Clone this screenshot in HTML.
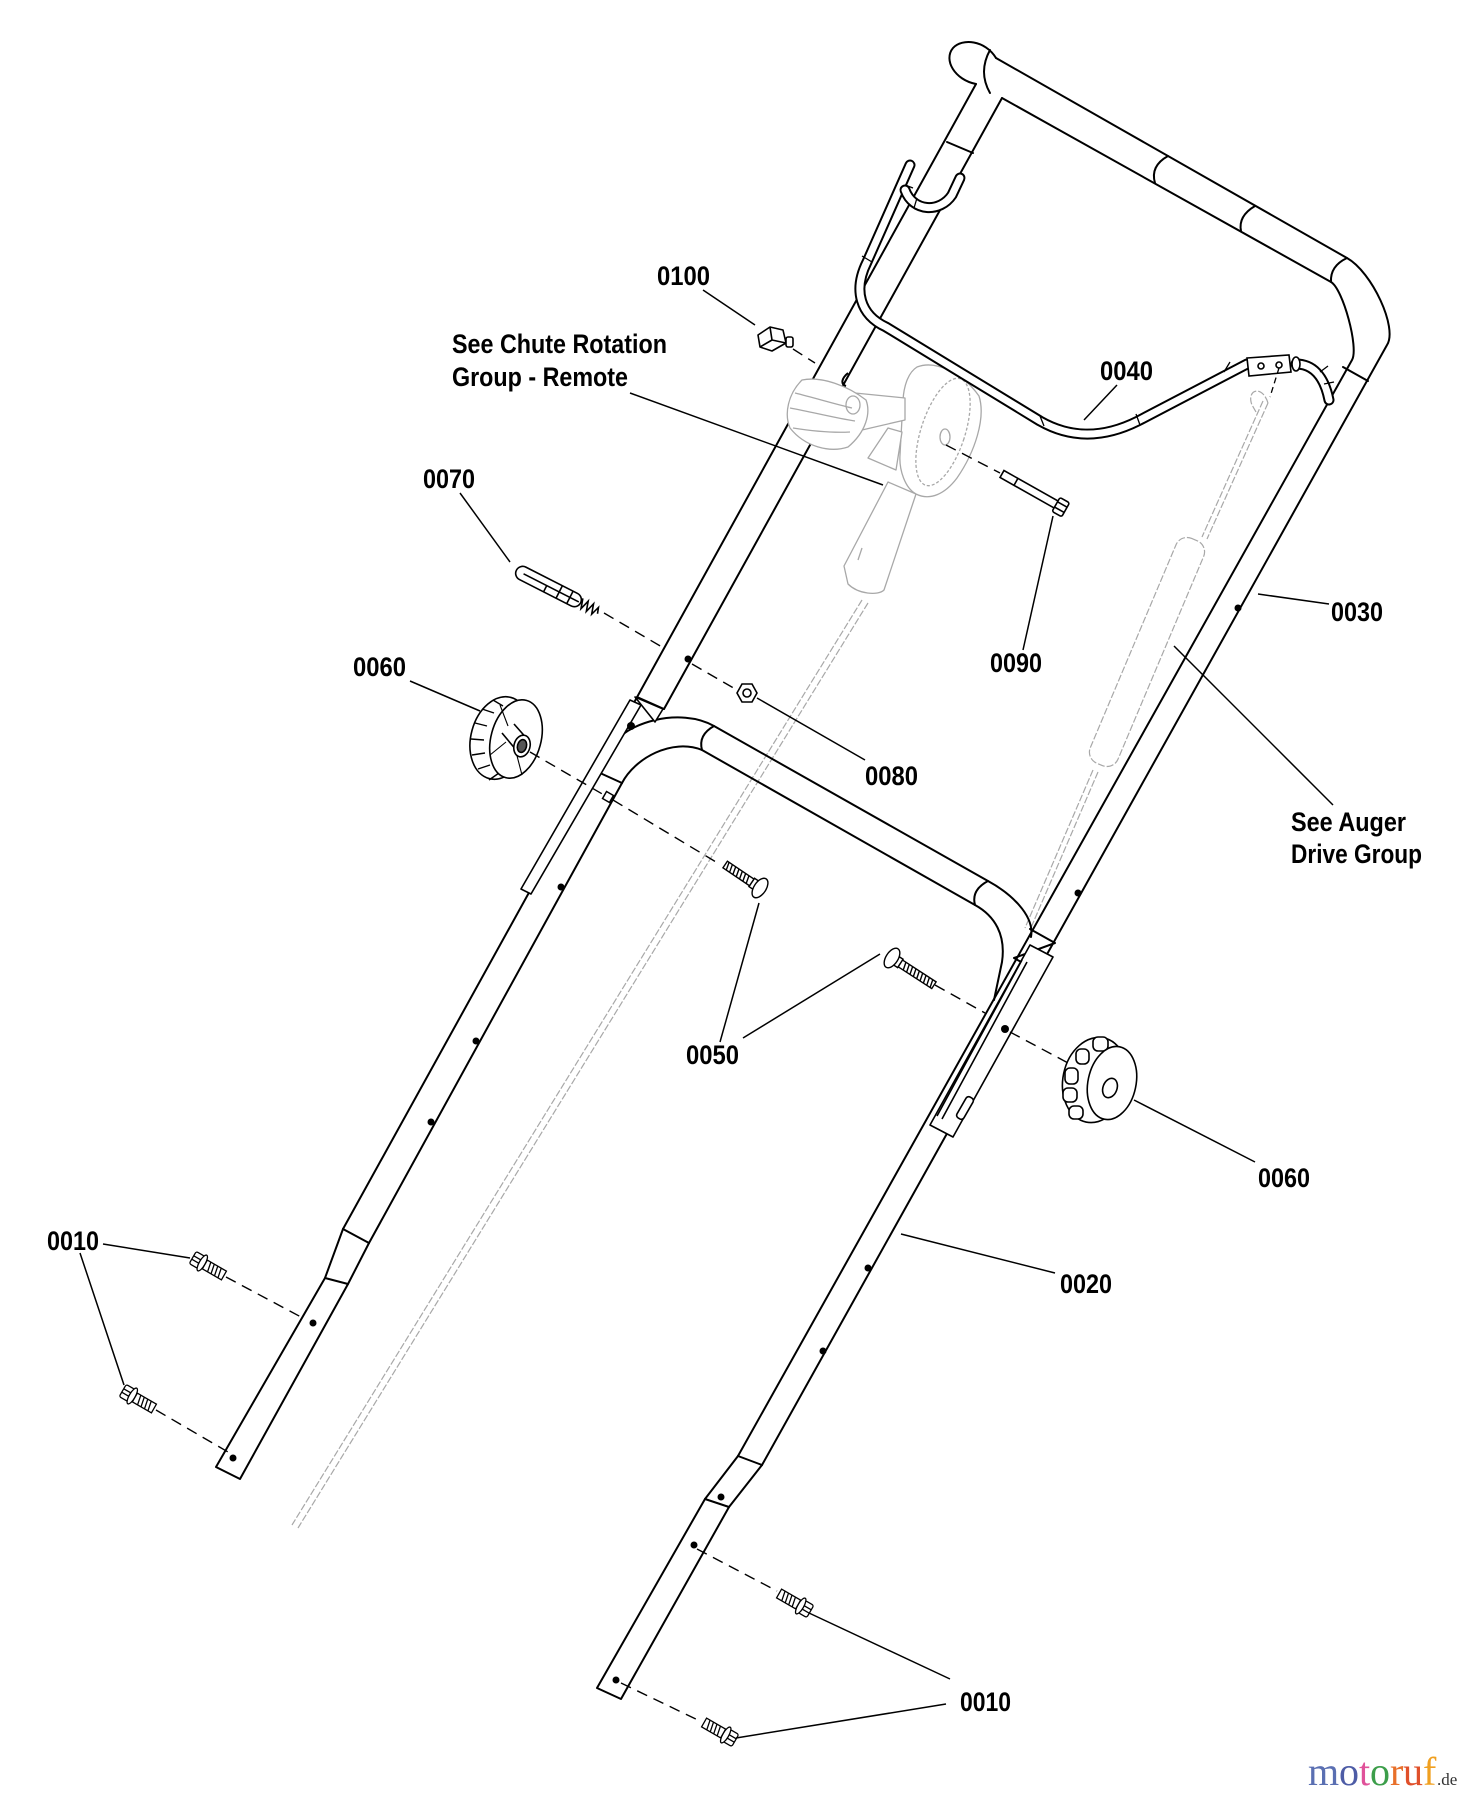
<!DOCTYPE html>
<html><head><meta charset="utf-8">
<style>
html,body{margin:0;padding:0;background:#fff;}
svg{display:block;}
.t{font-family:"Liberation Sans",sans-serif;font-weight:bold;font-size:27px;fill:#000;}
</style></head><body>
<svg width="1468" height="1800" viewBox="0 0 1468 1800" xmlns="http://www.w3.org/2000/svg">
<rect width="1468" height="1800" fill="#fff"/>

<!-- phantom cables -->
<g fill="none" stroke="#a8a8a8" stroke-width="1.2" stroke-dasharray="7 2">
 <path d="M862,600 L292,1525"/>
 <path d="M868,603 L298,1528"/>
 <path d="M1268,403 L1207,539"/>
 <path d="M1263,401 L1202,537"/>
 <path d="M1098,772 L1030,930"/>
 <path d="M1093,770 L1025,928"/>
 <rect x="-15" y="-122" width="30" height="244" rx="12" transform="translate(1147,652) rotate(22.9)"/>
 <path d="M1268,403 C1262,384 1246,390 1252,405 L1256,412"/>
</g>

<!-- tubes -->
<g fill="none" stroke="#000" stroke-width="2" stroke-linecap="round" stroke-linejoin="round">
 <path d="M976,84 L343,1229"/>
 <path d="M1002,98 L664,709"/>
 <path d="M622,783 L369,1243"/>
 <path d="M947,142 L973,153"/>
 <path d="M637,697 L664,709"/>
 <path d="M600,773 L622,783"/>
 <path d="M343,1229 L369,1243"/>
 <path d="M343,1229 L325,1278 L216,1467 L240,1479 L348,1284 L369,1243"/>
 <path d="M325,1278 L348,1284"/>
 <path d="M976,84 C955,80 943,60 953,48 C962,38 985,40 996,58"/>
 <path d="M990,50 Q978,72 990,93"/>
 <path d="M996,58 L1347,258 C1372,272 1398,328 1387,345 L762,1465"/>
 <path d="M1002,98 L1331,282 C1343,289 1359,348 1352,360 L738,1456"/>
 <path d="M1168,156 Q1150,166 1155,183"/>
 <path d="M1255,206 Q1238,216 1241,231"/>
 <path d="M1347,258 Q1330,266 1331,282"/>
 <path d="M1343,367 L1368,381"/>
 <path d="M1030,929 L1055,943 L1014,958 L1039,972"/>
 <path d="M738,1456 L762,1465"/>
 <path d="M738,1456 L705,1499 L597,1688 L621,1699 L729,1507 L762,1465"/>
 <path d="M705,1499 L729,1507"/>
 <path d="M610,748 C625,722 680,707 714,726 L988,881 C1010,893 1035,915 1031,937"/>
 <path d="M622,783 C635,758 672,738 702,750 L975,905 C995,916 1006,935 1002,962 L994,1000"/>
 <path d="M714,726 Q698,735 702,750"/>
 <path d="M988,881 Q971,890 975,905"/>
</g>

<!-- plates -->
<g fill="#fff" stroke="#000" stroke-width="1.6" stroke-linejoin="round">
 <path d="M630,700 L521,889 L531,894 L641,705 Z"/>
 <path d="M635,697 L663,709 L655,722 Z"/>
 <path d="M1030,945 L930,1125 L953,1137 L1053,957 Z"/>
 <path d="M1022,960 L937,1116 M1027,962 L942,1119" fill="none"/>
 <rect x="-4" y="-12" width="8" height="24" rx="3" transform="translate(965,1108) rotate(30)"/>
</g>
<circle cx="631" cy="726" r="4" fill="#000"/>
<rect x="604" y="793" width="8" height="8" fill="#fff" stroke="#000" stroke-width="1.5" transform="rotate(30 608 797)"/>

<!-- holes -->
<g fill="#000">
 <circle cx="688" cy="659" r="3.5"/><circle cx="561" cy="887" r="3.5"/><circle cx="476" cy="1041" r="3.5"/><circle cx="431" cy="1122" r="3.5"/>
 <circle cx="313" cy="1323" r="3.5"/><circle cx="233" cy="1458" r="3.5"/>
 <circle cx="1238" cy="608" r="3.5"/><circle cx="1078" cy="893" r="3.5"/><circle cx="1005" cy="1029" r="4"/><circle cx="868" cy="1268" r="3.5"/><circle cx="823" cy="1351" r="3.5"/>
 <circle cx="721" cy="1497" r="3.5"/><circle cx="694" cy="1545" r="3.5"/><circle cx="616" cy="1680" r="3.5"/>
</g>

<!-- chute rotation (gray) -->
<g stroke="#a8a8a8" stroke-width="1.3" fill="#fff" stroke-linejoin="round">
 <path d="M888,482 L916,494 L884,590 C878,596 858,594 848,584 L844,566 Z"/>
 <path d="M917,367 C935,360 962,372 979,396 C986,418 975,452 957,478 C945,494 930,501 916,494 C905,488 899,470 900,455 L903,400 C904,384 909,372 917,367 Z"/>
 <ellipse cx="943" cy="432" rx="22" ry="56" transform="rotate(18 943 432)" fill="none" stroke-dasharray="3 2"/>
 <path d="M845,392 L905,398 L905,420 L862,430 Z"/>
 <path d="M868,458 L888,428 L902,432 L896,470 Z"/>
 <path d="M802,380 C822,376 848,386 866,400 C871,413 866,432 848,447 C830,453 805,447 790,428 C784,414 788,394 802,380 Z"/>
 <path d="M795,393 C815,398 835,404 852,408 M790,408 C812,412 835,418 855,421 M793,428 C812,431 832,433 850,432" fill="none"/>
 <ellipse cx="853" cy="405" rx="7" ry="9" fill="none"/>
 <ellipse cx="945" cy="437" rx="5" ry="8" fill="none"/>
 <path d="M858,560 L862,548" fill="none"/>
</g>
<path d="M848,373 C842,378 840,384 846,386" fill="none" stroke="#000" stroke-width="2"/>

<!-- bail 0040 -->
<g fill="none" stroke-linecap="round" stroke-linejoin="round">
 <path d="M910,165 L867,262 C853,290 860,315 886,327 L1040,421 C1068,437 1100,440 1138,421 L1247,364" stroke="#000" stroke-width="11"/>
 <path d="M910,165 L867,262 C853,290 860,315 886,327 L1040,421 C1068,437 1100,440 1138,421 L1247,364" stroke="#fff" stroke-width="7"/>
 <path d="M905,190 C913,212 940,213 952,195 L960,178" stroke="#000" stroke-width="11"/>
 <path d="M905,190 C913,212 940,213 952,195 L960,178" stroke="#fff" stroke-width="7"/>
 <path d="M1296,364 C1312,364 1324,375 1329,400" stroke="#000" stroke-width="11"/>
 <path d="M1296,364 C1312,364 1324,375 1329,400" stroke="#fff" stroke-width="7"/>
</g>
<g fill="none" stroke="#000" stroke-width="1.3">
 <path d="M862,256 L872,262 M905,185 L913,188 M917,198 L914,208 M1040,416 L1044,426 M1136,414 L1140,425 M1224,372 L1230,362 M1320,372 L1328,366 M1324,384 L1334,382"/>
</g>
<g stroke="#000" stroke-width="1.6" fill="#fff">
 <path d="M1247,358 L1289,355 L1291,372 L1249,376 Z"/>
 <circle cx="1261" cy="366" r="3"/><circle cx="1279" cy="365" r="3"/>
 <ellipse cx="1296" cy="364" rx="4" ry="7"/>
</g>
<path d="M1279,368 L1270,397" stroke="#000" stroke-width="1.3" stroke-dasharray="6 4" fill="none"/>

<!-- part 0100 -->
<g stroke="#000" stroke-width="1.6" fill="#fff" stroke-linejoin="round">
 <path d="M758,335 L770,327 L783,330 L786,343 L772,351 L760,347 Z"/>
 <path d="M770,327 L772,340 L786,343 M772,340 L760,347" fill="none"/>
 <rect x="786" y="337" width="7" height="10" rx="2"/>
</g>

<!-- 0070 pin -->
<g transform="translate(520,572) rotate(27)" stroke="#000" stroke-width="1.6" fill="#fff">
 <rect x="-4" y="-7" width="72" height="14" rx="7"/>
 <path d="M4,0 L66,0 M30,0 L30,7 M44,-7 L44,7 M56,-7 L56,7" fill="none"/>
 <path d="M68,-5 L71,5 L74,-5 L77,5 L80,-5 L83,5 L86,-4 L88,2" fill="none"/>
</g>

<!-- nut 0080 -->
<g stroke="#000" stroke-width="1.6" fill="#fff">
 <path d="M757,693 L752,684 L742,684 L737,693 L742,702 L752,702 Z"/>
 <circle cx="747" cy="693" r="4"/>
</g>

<!-- 0090 bolt -->
<g transform="translate(1002,474) rotate(29.4)" stroke="#000" stroke-width="1.6" fill="#fff">
 <rect x="0" y="-4" width="64" height="8"/>
 <line x1="16" y1="-4" x2="16" y2="4"/>
 <rect x="62" y="-8" width="11" height="16" rx="2"/>
 <line x1="62" y1="-3" x2="73" y2="-3"/><line x1="62" y1="3" x2="73" y2="3"/>
</g>

<!-- knob left -->
<g stroke="#000" stroke-width="1.6" fill="#fff" stroke-linejoin="round">
 <ellipse cx="500" cy="738" rx="29" ry="42" transform="rotate(15 500 738)"/>
 <path d="M482,709 L494,713 M475,723 L487,726 M471,739 L484,740 M472,755 L485,753 M478,769 L490,765 M489,780 L499,773 M493,700 L503,706" fill="none" stroke-width="1.4"/>
 <ellipse cx="516" cy="739" rx="25" ry="40" transform="rotate(15 516 739)"/>
 <path d="M508,726 L500,705 M506,742 L490,755 M516,752 L522,775" fill="none" stroke-width="1.1"/>
 <path d="M501,731 L515,724 L530,742 L516,751 Z" stroke="none"/>
 <path d="M502,733 L517,751 M514,724 L529,741" fill="none"/>
 <ellipse cx="522" cy="746" rx="8" ry="11" transform="rotate(15 522 746)"/>
 <ellipse cx="522" cy="746" rx="4.5" ry="6.5" fill="#555" transform="rotate(15 522 746)"/>
</g>

<!-- knob right -->
<g stroke="#000" stroke-width="1.6" fill="#fff" stroke-linejoin="round">
 <ellipse cx="1095" cy="1080" rx="32" ry="43" transform="rotate(12 1095 1080)"/>
 <rect x="1093" y="1037" width="15" height="14" rx="5"/>
 <rect x="1076" y="1049" width="13" height="15" rx="5"/>
 <rect x="1065" y="1068" width="13" height="16" rx="5"/>
 <rect x="1063" y="1088" width="14" height="14" rx="5"/>
 <rect x="1069" y="1106" width="14" height="13" rx="5"/>
 <ellipse cx="1112" cy="1083" rx="24" ry="37" transform="rotate(12 1112 1083)"/>
 <ellipse cx="1110" cy="1088" rx="7" ry="10" transform="rotate(20 1110 1088)"/>
</g>

<!-- 0050 bolts -->
<g transform="translate(760,888) rotate(214)" stroke="#000" stroke-width="1.4" fill="#fff">
 <rect x="2" y="-5" width="8" height="10"/>
 <rect x="10" y="-4" width="32" height="8"/>
 <path d="M14,-4 L16,4 M18,-4 L20,4 M22,-4 L24,4 M26,-4 L28,4 M30,-4 L32,4 M34,-4 L36,4 M38,-4 L40,4" fill="none"/>
 <ellipse cx="0" cy="0" rx="6" ry="11"/>
</g>
<g transform="translate(892,958) rotate(33)" stroke="#000" stroke-width="1.4" fill="#fff">
 <rect x="2" y="-5" width="8" height="10"/>
 <rect x="10" y="-4" width="40" height="8"/>
 <path d="M14,-4 L16,4 M18,-4 L20,4 M22,-4 L24,4 M26,-4 L28,4 M30,-4 L32,4 M34,-4 L36,4 M38,-4 L40,4 M42,-4 L44,4 M46,-4 L48,4" fill="none"/>
 <ellipse cx="0" cy="0" rx="6" ry="11"/>
</g>

<!-- 0010 bolts -->
<g transform="translate(204,1264) rotate(30)" stroke="#000" stroke-width="1.3" fill="#fff">
 <rect x="-13" y="-7" width="10" height="14" rx="2"/><path d="M-13,-2 L-3,-2 M-13,2 L-3,2" fill="none"/>
 <ellipse cx="-2" cy="0" rx="3" ry="9"/>
 <rect x="1" y="-5" width="22" height="10"/>
 <path d="M5,-5 L7,5 M9,-5 L11,5 M13,-5 L15,5 M17,-5 L19,5" fill="none"/>
</g>
<g transform="translate(134,1397) rotate(30)" stroke="#000" stroke-width="1.3" fill="#fff">
 <rect x="-13" y="-7" width="10" height="14" rx="2"/><path d="M-13,-2 L-3,-2 M-13,2 L-3,2" fill="none"/>
 <ellipse cx="-2" cy="0" rx="3" ry="9"/>
 <rect x="1" y="-5" width="22" height="10"/>
 <path d="M5,-5 L7,5 M9,-5 L11,5 M13,-5 L15,5 M17,-5 L19,5" fill="none"/>
</g>
<g transform="translate(799,1605) rotate(210)" stroke="#000" stroke-width="1.3" fill="#fff">
 <rect x="-13" y="-7" width="10" height="14" rx="2"/><path d="M-13,-2 L-3,-2 M-13,2 L-3,2" fill="none"/>
 <ellipse cx="-2" cy="0" rx="3" ry="9"/>
 <rect x="1" y="-5" width="22" height="10"/>
 <path d="M5,-5 L7,5 M9,-5 L11,5 M13,-5 L15,5 M17,-5 L19,5" fill="none"/>
</g>
<g transform="translate(724,1734) rotate(210)" stroke="#000" stroke-width="1.3" fill="#fff">
 <rect x="-13" y="-7" width="10" height="14" rx="2"/><path d="M-13,-2 L-3,-2 M-13,2 L-3,2" fill="none"/>
 <ellipse cx="-2" cy="0" rx="3" ry="9"/>
 <rect x="1" y="-5" width="22" height="10"/>
 <path d="M5,-5 L7,5 M9,-5 L11,5 M13,-5 L15,5 M17,-5 L19,5" fill="none"/>
</g>

<!-- dashed lines -->
<g fill="none" stroke="#000" stroke-width="1.4" stroke-dasharray="11 7">
 <path d="M793,349 L815,363"/>
 <path d="M604,613 L662,647"/>
 <path d="M692,664 L737,690"/>
 <path d="M530,752 L604,795"/>
 <path d="M613,800 L716,862"/>
 <path d="M946,445 L1000,473"/>
 <path d="M935,985 L985,1013"/>
 <path d="M1010,1032 L1070,1064"/>
 <path d="M226,1277 L301,1317"/>
 <path d="M156,1410 L228,1452"/>
 <path d="M697,1549 L777,1591"/>
 <path d="M621,1683 L702,1722"/>
</g>

<!-- leaders -->
<g fill="none" stroke="#000" stroke-width="1.5">
 <path d="M703,290 L755,325"/>
 <path d="M630,393 L883,485"/>
 <path d="M1117,385 L1084,420"/>
 <path d="M460,493 L510,562"/>
 <path d="M1053,516 L1023,650"/>
 <path d="M1258,594 L1329,604"/>
 <path d="M1174,646 L1333,805"/>
 <path d="M410,681 L480,711"/>
 <path d="M757,698 L865,760"/>
 <path d="M759,903 L720,1042"/>
 <path d="M880,954 L743,1038"/>
 <path d="M1134,1100 L1255,1162"/>
 <path d="M901,1234 L1055,1273"/>
 <path d="M103,1244 L190,1258"/>
 <path d="M80,1253 L124,1385"/>
 <path d="M809,1613 L950,1679"/>
 <path d="M736,1738 L946,1704"/>
</g>

<!-- labels -->
<text class="t" x="657" y="285" textLength="53" lengthAdjust="spacingAndGlyphs">0100</text>
<text class="t" x="452" y="353" textLength="215" lengthAdjust="spacingAndGlyphs">See Chute Rotation</text>
<text class="t" x="452" y="386" textLength="176" lengthAdjust="spacingAndGlyphs">Group - Remote</text>
<text class="t" x="1100" y="380" textLength="53" lengthAdjust="spacingAndGlyphs">0040</text>
<text class="t" x="423" y="488" textLength="52" lengthAdjust="spacingAndGlyphs">0070</text>
<text class="t" x="990" y="672" textLength="52" lengthAdjust="spacingAndGlyphs">0090</text>
<text class="t" x="1331" y="621" textLength="52" lengthAdjust="spacingAndGlyphs">0030</text>
<text class="t" x="353" y="676" textLength="53" lengthAdjust="spacingAndGlyphs">0060</text>
<text class="t" x="865" y="785" textLength="53" lengthAdjust="spacingAndGlyphs">0080</text>
<text class="t" x="1291" y="831" textLength="115" lengthAdjust="spacingAndGlyphs">See Auger</text>
<text class="t" x="1291" y="863" textLength="131" lengthAdjust="spacingAndGlyphs">Drive Group</text>
<text class="t" x="686" y="1064" textLength="53" lengthAdjust="spacingAndGlyphs">0050</text>
<text class="t" x="1258" y="1187" textLength="52" lengthAdjust="spacingAndGlyphs">0060</text>
<text class="t" x="47" y="1250" textLength="52" lengthAdjust="spacingAndGlyphs">0010</text>
<text class="t" x="1060" y="1293" textLength="52" lengthAdjust="spacingAndGlyphs">0020</text>
<text class="t" x="960" y="1711" textLength="51" lengthAdjust="spacingAndGlyphs">0010</text>

<!-- logo -->
<g font-family="Liberation Serif, serif" font-size="40">
 <text x="1308" y="1785" fill="#5a6fb2">m</text>
 <text x="1339" y="1785" fill="#4d5ca6">o</text>
 <text x="1359" y="1785" fill="#e0529a">t</text>
 <text x="1370" y="1785" fill="#3c9e4a">o</text>
 <text x="1390" y="1785" fill="#e8702a">r</text>
 <text x="1403" y="1785" fill="#e0502a">u</text>
 <text x="1423" y="1785" fill="#f0a020">f</text>
 <text x="1437" y="1785" fill="#333" font-size="17">.de</text>
</g>
</svg>
</body></html>
